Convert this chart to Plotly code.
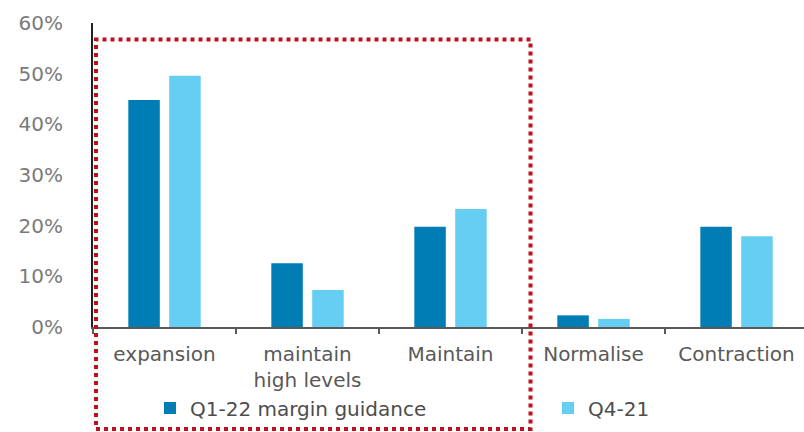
import plotly.graph_objects as go

categories = ["expansion", "maintain<br>high levels", "Maintain", "Normalise", "Contraction"]
q1_22 = [0.448, 0.126, 0.198, 0.023, 0.198]
q4_21 = [0.496, 0.073, 0.233, 0.016, 0.179]
series_names = ["Q1-22 margin guidance", "Q4-21"]
y_ticks = [0, 0.1, 0.2, 0.3, 0.4, 0.5, 0.6]
y_ticklabels = ["0%", "10%", "20%", "30%", "40%", "50%", "60%"]

DARK = "#007DB4"
LIGHT = "#66CDF3"
RED = "#C0101E"
FONT = "DejaVu Sans"

fig = go.Figure()
fig.add_trace(go.Bar(x=categories, y=q1_22, name=series_names[0],
                     marker=dict(color=DARK, line=dict(width=0)), legend="legend"))
fig.add_trace(go.Bar(x=categories, y=q4_21, name=series_names[1],
                     marker=dict(color=LIGHT, line=dict(width=0)), legend="legend2"))

L, R, T, B = 93, 0, 23, 105
W, H = 804, 432
pw = W - L - R
ph = H - T - B

fig.update_layout(
    width=W, height=H,
    margin=dict(l=L, r=R, t=T, b=B, pad=0),
    paper_bgcolor="white", plot_bgcolor="white",
    barmode="group", bargap=0.428, bargroupgap=0.23,
    font=dict(family=FONT, size=20, color="#595959"),
    showlegend=True,
    legend=dict(orientation="h", x=(170 - 20 - 93) / pw, xanchor="left",
                y=(H - B - 408) / ph, yanchor="middle",
                font=dict(family=FONT, size=20, color="#4d4d4d"),
                bgcolor="rgba(0,0,0,0)", borderwidth=0, traceorder="normal"),
    legend2=dict(orientation="h", x=(568 - 20 - 93) / pw, xanchor="left",
                 y=(H - B - 408) / ph, yanchor="middle",
                 font=dict(family=FONT, size=20, color="#4d4d4d"),
                 bgcolor="rgba(0,0,0,0)", borderwidth=0),
    xaxis=dict(
        type="category",
        categoryorder="array", categoryarray=categories,
        range=[-0.5, (pw / 143.0) - 0.5],
        tickson="boundaries", ticks="outside", ticklen=5, tickwidth=2, tickcolor="#595959",
        showline=True, linecolor="#595959", linewidth=2,
        showgrid=False, zeroline=False,
        tickfont=dict(family=FONT, size=20, color="#595959"),
        ticklabelstandoff=8,
    ),
    yaxis=dict(
        range=[0, 0.6], tickmode="array", tickvals=y_ticks, ticktext=y_ticklabels,
        showline=True, linecolor="#222222", linewidth=2,
        showgrid=False, zeroline=False, ticks="",
        tickfont=dict(family=FONT, size=20, color="#7a7a7a"),
        ticklabelstandoff=24,
    ),
)

def px_x(p):
    return (p - L) / pw

def px_y(p):
    return (H - B - p) / ph

# red dotted highlight box
fig.add_shape(type="rect", xref="paper", yref="paper",
              x0=px_x(96), x1=px_x(530.5), y0=px_y(429), y1=px_y(39.5),
              line=dict(color=RED, width=4, dash="4px,4px"),
              fillcolor="rgba(0,0,0,0)", layer="above")

fig.write_html("out.html")
